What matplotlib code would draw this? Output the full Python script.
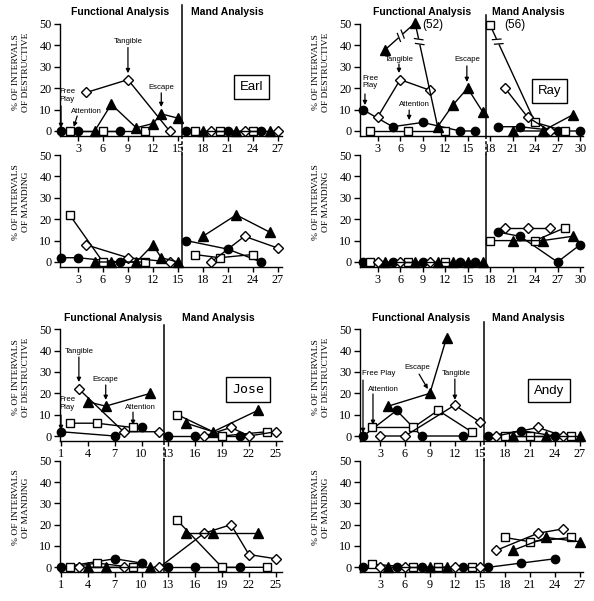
import matplotlib.pyplot as plt
import numpy as np

# ---- data (session, % of intervals) ----
# Earl
earl_circ_x = [1, 3, 8, 16, 21, 25]
earl_circ_dest = [0, 0, 0, 0, 0, 0]
earl_circ_mand = [2, 2, 0, 10, 6, 0]
earl_sq_x = [2, 6, 11, 17, 20, 24]
earl_sq_dest = [0, 0, 0, 0, 0, 0]
earl_sq_mand = [22, 0, 0, 3.5, 2, 3.5]
earl_dia_x = [4, 9, 14, 19, 23, 27]
earl_dia_dest = [18, 24, 0, 0, 0, 0]
earl_dia_mand = [8, 2, 0, 0, 12, 6.5]
earl_tri_x = [5, 7, 10, 12, 13, 15, 18, 22, 26]
earl_tri_dest = [0, 12.5, 1.5, 3.5, 8, 6, 0, 0, 0]
earl_tri_mand = [0, 0, 0, 8, 2, 0, 12, 22, 14]

# Ray
ray_circ_x = [1, 5, 9, 14, 16, 19, 22, 27, 30]
ray_circ_dest = [10, 2, 4, 0, 0, 2, 2, 0, 0]
ray_circ_mand = [0, 0, 0, 0, 0, 14, 12, 0, 8]
ray_sq_x = [2, 7, 12, 18, 24, 28]
ray_sq_dest = [0, 0, 0, 49.5, 4, 0]      # session 18 is off scale (56)
ray_sq_mand = [0, 0, 0, 10, 10, 16]
ray_dia_x = [3, 6, 10, 20, 23, 26]
ray_dia_dest = [6.5, 24, 19, 20, 6.5, 0]
ray_dia_mand = [0, 0, 0, 16, 16, 16]
ray_tri_x = [4, 8, 11, 13, 15, 17, 21, 25, 29]
ray_tri_dest = [38, 50.5, 2, 12, 20, 9, 0, 0, 7.5]   # session 8 is off scale (52)
ray_tri_mand = [0, 0, 0, 0, 0, 0, 10, 10, 12]

# Jose
jose_circ_x = [1, 7, 10, 13, 16, 21]
jose_circ_dest = [2, 0, 4, 0, 0, 0]
jose_circ_mand = [0, 4, 2, 0, 0, 0]
jose_sq_x = [2, 5, 9, 14, 19, 24]
jose_sq_dest = [6, 6, 4, 10, 0, 2]
jose_sq_mand = [0, 2, 0, 22, 0, 0]
jose_dia_x = [3, 8, 12, 17, 20, 22, 25]
jose_dia_dest = [22, 2, 2, 0, 4, 0, 2]
jose_dia_mand = [0, 0, 0, 16, 20, 6, 4]
jose_tri_x = [4, 6, 11, 15, 18, 23]
jose_tri_dest = [16, 14, 20, 6, 2, 12]
jose_tri_mand = [0, 0, 0, 16, 16, 16]

# Andy
andy_circ_x = [1, 5, 8, 13, 16, 20, 24]
andy_circ_dest = [0, 12, 0, 0, 0, 2.5, 0]
andy_circ_mand = [0, 0, 0, 0, 0, 2, 4]
andy_sq_x = [2, 7, 10, 14, 18, 21, 26]
andy_sq_dest = [4, 4, 12, 2, 0, 0, 0]
andy_sq_mand = [1.5, 0, 0, 0, 14, 12, 14]
andy_dia_x = [3, 6, 12, 15, 17, 22, 25]
andy_dia_dest = [0, 0, 14.5, 6.5, 0, 4, 0]
andy_dia_mand = [0, 0, 0, 0, 8, 16, 18]
andy_tri_x = [4, 9, 11, 19, 23, 27]
andy_tri_dest = [14, 20, 46, 0, 0, 0]
andy_tri_mand = [0, 0, 0, 8, 14, 12]

plt.rcParams['font.family'] = 'Liberation Serif'
SANS = 'Liberation Sans'
W, H = 594, 601

fig = plt.figure(figsize=(W / 100, H / 100), dpi=100)

styles = {
    'circ': dict(marker='o', ms=6, mfc='black', mec='black'),
    'sq': dict(marker='s', ms=5.8, mfc='white', mec='black'),
    'dia': dict(marker='D', ms=5.2, mfc='white', mec='black'),
    'tri': dict(marker='^', ms=6.5, mfc='black', mec='black'),
}

subjects = [
    dict(name='Earl', left=60, right=282, row=0, xlim=(0.84, 27.5), ticks=range(3, 28, 3),
         phase=15.5, line_top=5, box=(23.8, 20.6), font=SANS,
         series={'circ': (earl_circ_x, earl_circ_dest, earl_circ_mand),
                 'sq': (earl_sq_x, earl_sq_dest, earl_sq_mand),
                 'dia': (earl_dia_x, earl_dia_dest, earl_dia_mand),
                 'tri': (earl_tri_x, earl_tri_dest, earl_tri_mand)},
         ann=[('Tangible', 9.0, 41.6, 'center', (9, 39), (9, 27)),
              ('Free\nPlay', 0.72, 16.6, 'left', (0.96, 11.7), (0.96, 1.4)),
              ('Attention', 4.0, 9.3, 'center', (2.9, 7), (2.5, 1.9)),
              ('Escape', 13.0, 20.3, 'center', (13, 17.8), (13, 11.2))],
         titles=((120.5, 12.3), (227, 12.3)), ylab_x=21),
    dict(name='Ray', left=360, right=583, row=0, xlim=(0.64, 30.4), ticks=range(3, 31, 3),
         phase=17.5, line_top=15, box=(25.9, 18.6), font=SANS,
         series={'circ': (ray_circ_x, ray_circ_dest, ray_circ_mand),
                 'sq': (ray_sq_x, ray_sq_dest, ray_sq_mand),
                 'dia': (ray_dia_x, ray_dia_dest, ray_dia_mand),
                 'tri': (ray_tri_x, ray_tri_dest, ray_tri_mand)},
         ann=[('Tangible', 5.84, 33.6, 'center', (5.84, 31.3), (5.84, 27.1)),
              ('Free\nPlay', 1.0, 22.9, 'left', (1.3, 17.3), (1.3, 12.1)),
              ('Attention', 7.9, 12.6, 'center', (7.2, 9.8), (7.2, 5.1)),
              ('Escape', 14.9, 33.2, 'center', (14.9, 30.4), (14.9, 22.9))],
         titles=((422.5, 12.3), (528.7, 12.3)), ylab_x=321),
    dict(name='Jose', left=60, right=282, row=1, xlim=(0.89, 25.7), ticks=range(1, 26, 3),
         phase=12.5, line_top=325, box=(21.9, 21.6), font='DejaVu Sans Mono',
         series={'circ': (jose_circ_x, jose_circ_dest, jose_circ_mand),
                 'sq': (jose_sq_x, jose_sq_dest, jose_sq_mand),
                 'dia': (jose_dia_x, jose_dia_dest, jose_dia_mand),
                 'tri': (jose_tri_x, jose_tri_dest, jose_tri_mand)},
         ann=[('Tangible', 3.07, 39.8, 'center', (3.0, 37), (3.0, 25.3)),
              ('Escape', 6.0, 26.7, 'center', (6.0, 23.9), (6.0, 16.9)),
              ('Free\nPlay', 0.78, 15.2, 'left', (1, 9.8), (1, 2.8)),
              ('Attention', 9.93, 13.4, 'center', (9.05, 11.2), (9.05, 5.2))],
         titles=((113, 318.3), (218.8, 318.3)), ylab_x=21, link='dia'),
    dict(name='Andy', left=360, right=583, row=1, xlim=(0.6, 27.4), ticks=range(3, 28, 3),
         phase=15.5, line_top=322, box=(23.3, 21.3), font=SANS,
         series={'circ': (andy_circ_x, andy_circ_dest, andy_circ_mand),
                 'sq': (andy_sq_x, andy_sq_dest, andy_sq_mand),
                 'dia': (andy_dia_x, andy_dia_dest, andy_dia_mand),
                 'tri': (andy_tri_x, andy_tri_dest, andy_tri_mand)},
         ann=[('Free Play', 0.84, 29.5, 'left', (0.96, 26.2), (0.96, 1.4)),
              ('Attention', 3.4, 21.7, 'center', (2.16, 19.7), (2.16, 5.2)),
              ('Escape', 7.44, 32.3, 'center', (7.7, 29), (8.76, 22)),
              ('Tangible', 12.2, 29.5, 'center', (12, 26.7), (12, 16.9))],
         titles=((421, 318.3), (528, 318.3)), ylab_x=321),
]

# pixel rows: (top of y=50, bottom of axis) for destructive and manding panels
rows = [((24, 135.7), (155, 266.7)), ((329.3, 440.7), (460.7, 572))]
YLO = -2.2


def add_ax(l, r, top, bot):
    return fig.add_axes([l / W, 1 - bot / H, (r - l) / W, (bot - top) / H])


def style_ax(ax, s):
    ax.set_xlim(*s['xlim'])
    ax.set_ylim(YLO, 50)
    ax.set_xticks(list(s['ticks']))
    ax.set_yticks(range(0, 51, 10))
    for k in ['top', 'right']:
        ax.spines[k].set_visible(False)
    for k in ['left', 'bottom']:
        ax.spines[k].set_linewidth(1)
    ax.tick_params(axis='x', direction='out', length=3.5, width=1, labelsize=8.8, pad=1.5)
    ax.tick_params(axis='y', direction='out', length=4.5, width=1, labelsize=8.8, pad=1.5)
    ax.patch.set_alpha(0)


def draw_series(ax, xs, ys, phase, st, linked=False):
    xs = np.array(xs)
    ys = np.array(ys)
    groups = [np.ones(len(xs), bool)] if linked else [xs < phase, xs > phase]
    for g in groups:
        ax.plot(xs[g], ys[g], color='black', lw=1, mew=1, clip_on=False, zorder=3, **st)


def brk(ax, p0, p1, t):
    # "//" break mark on an off-scale segment
    a = ax.transData.transform(p0)
    b = ax.transData.transform(p1)
    d = b - a
    u = d / np.hypot(*d)
    n = np.array([-u[1], u[0]])
    m = a + t * d
    inv = ax.transData.inverted()
    g = inv.transform([m - 3 * u, m + 3 * u])
    ax.plot(g[:, 0], g[:, 1], color='white', lw=3, zorder=3.5, clip_on=False, solid_capstyle='butt')
    for c in (m - 2.5 * u, m + 2.5 * u):
        q = inv.transform([c - 4 * n - 1.5 * u, c + 4 * n + 1.5 * u])
        ax.plot(q[:, 0], q[:, 1], color='black', lw=0.9, zorder=3.6, clip_on=False)


for s in subjects:
    (t0, b0), (t1, b1) = rows[s['row']]
    ax_d = add_ax(s['left'], s['right'], t0, b0)
    ax_m = add_ax(s['left'], s['right'], t1, b1)
    for ax in (ax_d, ax_m):
        style_ax(ax, s)
    ppu = (b0 - t0) / (50 - YLO)

    for key, (xs, dest, mand) in s['series'].items():
        draw_series(ax_d, xs, dest, s['phase'], styles[key])
        draw_series(ax_m, xs, mand, s['phase'], styles[key], linked=(s.get('link') == key))

    # phase change line
    p = s['phase']
    ax_d.plot([p, p], [YLO, 50 + (t0 - s['line_top']) / ppu], color='black', lw=1.1, clip_on=False, zorder=2)
    ax_m.plot([p, p], [50, 50 + (t1 - b0) / ppu], color='black', lw=1.1, ls=(0, (2, 1.5)), clip_on=False, zorder=2)
    ax_m.plot([p, p], [YLO, 50], color='black', lw=1.1, clip_on=False, zorder=2)

    # condition labels with arrows
    for txt, tx, ty, ha, tail, tip in s['ann']:
        ax_d.text(tx, ty, txt, ha=ha, va='center', fontsize=5.6, family=SANS, linespacing=1.05, zorder=5)
        ax_d.annotate('', xy=tip, xytext=tail,
                      arrowprops=dict(arrowstyle='-|>', color='black', lw=0.9, mutation_scale=6,
                                      shrinkA=0, shrinkB=0), zorder=5)

    ax_d.text(s['box'][0], s['box'][1], s['name'], ha='center', va='center', fontsize=9.5,
              family=s['font'], zorder=6,
              bbox=dict(boxstyle='square,pad=0.45', fc='white', ec='black', lw=1))

    # titles
    (fx, fy), (mx, my) = s['titles']
    fig.text(fx / W, 1 - fy / H, 'Functional Analysis', ha='center', va='center',
             fontsize=7.5, fontweight='bold', family=SANS)
    fig.text(mx / W, 1 - my / H, 'Mand Analysis', ha='center', va='center',
             fontsize=7.5, fontweight='bold', family=SANS)

    # y labels
    yd = (t0 + b0) / 2 - 8
    ym = (t1 + b1) / 2 - 9
    fig.text(s['ylab_x'] / W, 1 - yd / H, '% OF INTERVALS\nOF DESTRUCTIVE', rotation=90,
             ha='center', va='center', fontsize=6.8, linespacing=1.2)
    fig.text(s['ylab_x'] / W, 1 - ym / H, '% OF INTERVALS\nOF MANDING', rotation=90,
             ha='center', va='center', fontsize=6.8, linespacing=1.2)

    if s['name'] == 'Ray':
        brk(ax_d, (4, 38), (8, 50.5), 0.52)
        brk(ax_d, (8, 50.5), (11, 2), 0.18)
        brk(ax_d, (18, 49.5), (24, 4), 0.17)
        ax_d.text(8.9, 49.5, '(52)', ha='left', va='center', fontsize=8.5, family=SANS)
        ax_d.text(19.9, 49.5, '(56)', ha='left', va='center', fontsize=8.5, family=SANS)

fig.savefig('out.png', dpi=100)
